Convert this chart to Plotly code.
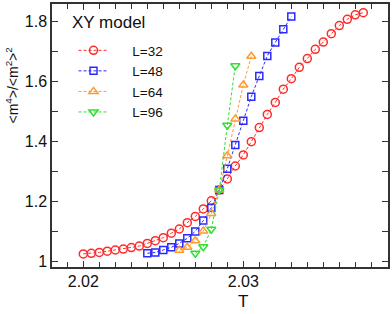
import plotly.graph_objects as go

T32 = [2.0200, 2.0205, 2.0210, 2.0215, 2.0220, 2.0225, 2.0230, 2.0235, 2.0240, 2.0245,
       2.0250, 2.0255, 2.0260, 2.0265, 2.0270, 2.0275, 2.0280, 2.0285, 2.0290, 2.0295,
       2.0300, 2.0305, 2.0310, 2.0315, 2.0320, 2.0325, 2.0330, 2.0335, 2.0340, 2.0345,
       2.0350, 2.0355, 2.0360, 2.0365, 2.0370, 2.0375]
B32 = [1.026, 1.028, 1.031, 1.035, 1.039, 1.042, 1.047, 1.052, 1.061, 1.070,
       1.080, 1.095, 1.109, 1.130, 1.151, 1.176, 1.203, 1.239, 1.276, 1.319,
       1.356, 1.400, 1.447, 1.491, 1.531, 1.575, 1.610, 1.648, 1.677, 1.708,
       1.732, 1.760, 1.787, 1.808, 1.823, 1.830]

T48 = [2.0240, 2.0245, 2.0250, 2.0255, 2.0260, 2.0265, 2.0270, 2.0275, 2.0280, 2.0285,
       2.0290, 2.0295, 2.0300, 2.0305, 2.0310, 2.0315, 2.0320, 2.0325, 2.0330]
B48 = [1.028, 1.031, 1.039, 1.048, 1.061, 1.078, 1.101, 1.137, 1.180, 1.239,
       1.310, 1.389, 1.470, 1.550, 1.619, 1.686, 1.731, 1.775, 1.817]

T64 = [2.0260, 2.0265, 2.0270, 2.0275, 2.0280, 2.0285, 2.0290, 2.0295, 2.0300, 2.0305]
B64 = [1.038, 1.048, 1.070, 1.102, 1.161, 1.239, 1.353, 1.476, 1.589, 1.685]

T96 = [2.0270, 2.0275, 2.0280, 2.0285, 2.0290, 2.0295]
B96 = [1.028, 1.050, 1.108, 1.239, 1.455, 1.653]

X_TICKS = [2.02, 2.03]
X_LABELS = ["2.02", "2.03"]
Y_TICKS = [1.0, 1.2, 1.4, 1.6, 1.8]
Y_LABELS = ["1", "1.2", "1.4", "1.6", "1.8"]

series = [
    ("L=32", T32, B32, "#ff2a2a", "circle-open", 8),
    ("L=48", T48, B48, "#2a2aff", "square-open", 7),
    ("L=64", T64, B64, "#ff9a30", "triangle-up-open", 8),
    ("L=96", T96, B96, "#30e030", "triangle-down-open", 8),
]

fig = go.Figure()
for name, t, b, col, sym, sz in series:
    fig.add_trace(go.Scatter(
        x=t, y=b, name="\u00a0" * 5 + name, mode="lines+markers",
        line=dict(color=col, width=1, dash="3px,2px"),
        marker=dict(symbol=sym, size=sz, color=col, line=dict(color=col, width=1.5)),
    ))

axcol = "#333333"
fig.update_layout(
    width=392, height=314,
    margin=dict(l=52, r=4, t=4, b=47, autoexpand=False),
    paper_bgcolor="white", plot_bgcolor="white",
    font=dict(family="Liberation Sans, Arial, sans-serif", size=16, color="#111111"),
    showlegend=True,
    legend=dict(
        x=0.064, y=0.882, xanchor="left", yanchor="top",
        bgcolor="rgba(0,0,0,0)",
        font=dict(size=13.5),
    ),
    xaxis=dict(
        range=[2.018044, 2.039044], automargin=False,
        tickvals=X_TICKS, ticktext=X_LABELS,
        ticks="inside", ticklen=6, tickwidth=1.2, tickcolor=axcol,
        minor=dict(dtick=0.001, tick0=2.02, ticks="inside", ticklen=5, tickwidth=1.2, tickcolor=axcol),
        showline=True, linecolor=axcol, linewidth=1.5, mirror="allticks",
        showgrid=False, zeroline=False,
        tickfont=dict(size=16), ticklabelstandoff=-1,
    ),
    yaxis=dict(
        range=[0.9823, 1.859], automargin=False,
        tickvals=Y_TICKS, ticktext=Y_LABELS,
        ticks="inside", ticklen=6, tickwidth=1.2, tickcolor=axcol,
        minor=dict(dtick=0.1, tick0=1.0, ticks="inside", ticklen=6, tickwidth=1.2, tickcolor=axcol),
        showline=True, linecolor=axcol, linewidth=1.5, mirror="allticks",
        showgrid=False, zeroline=False,
        tickfont=dict(size=16),
    ),
    annotations=[
        dict(
            text="XY model", xref="paper", yref="paper", x=0.0535, y=0.928,
            xanchor="left", yanchor="middle", showarrow=False,
            font=dict(size=17),
        ),
        dict(
            text="&lt;m<sup>4</sup>&gt;/&lt;m<sup>2</sup>&gt;<sup>2</sup>",
            xref="paper", yref="paper", x=-0.119, y=0.69,
            xanchor="center", yanchor="middle", textangle=-90, showarrow=False,
            font=dict(size=14),
        ),
        dict(
            text="T", xref="x", yref="paper", x=2.03, y=-0.133,
            xanchor="center", yanchor="middle", showarrow=False,
            font=dict(size=17),
        ),
    ],
)

fig.write_html(
    "out.html",
    config={"displayModeBar": False},
    post_script="document.body.style.margin='0px';document.body.style.padding='0px';document.body.style.overflow='hidden';",
)
